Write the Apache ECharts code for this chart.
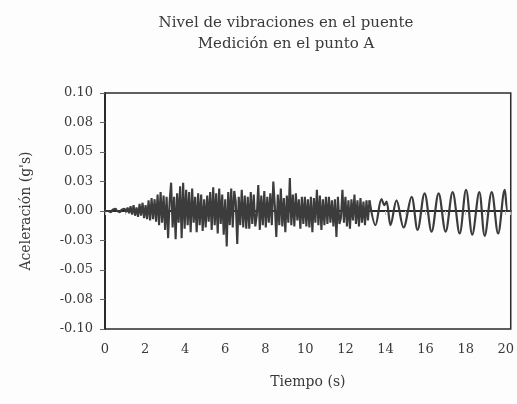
<!DOCTYPE html>
<html>
<head>
<meta charset="utf-8">
<script src="https://cdn.jsdelivr.net/npm/echarts@6/dist/echarts.min.js"></script>
<style>
html,body{margin:0;padding:0;background:#fdfdfd;}
#chart{width:517px;height:404px;}
</style>
</head>
<body>
<div id="chart"></div>
<script>
// Title and axis texts
const titleLines = ["Nivel de vibraciones en el puente", "Medición en el punto A"];
const xAxisName = "Tiempo (s)";
const yAxisName = "Aceleración (g's)";

// Dense, irregular part: samples every 0.075 s starting at 0 s (values in g)
const denseStep = 0.075;
const denseAccel = [
  0, 0.001, 0, 0.001, -0.001, 0.001, 0, 0.002, 0, 0.001, -0.001, 0.001, 0, 0.002, -0.001,
  0.003, -0.002, 0.004, -0.003, 0.005, -0.004, 0.003, -0.005, 0.006, -0.004, 0.007, -0.006, 0.005, -0.007,
  0.009, -0.008, 0.011, -0.007, 0.010, -0.009,
  0.014, -0.012, 0.016, -0.010, 0.013, -0.016, 0.012,
  -0.023, 0.008, 0.024, -0.014, 0.012,
  -0.024, 0.015, -0.010, 0.021, -0.023, 0.024, -0.015, 0.018,
  -0.012, 0.016, -0.018, 0.019, -0.010, 0.012, -0.018, 0.015,
  -0.012, 0.014, -0.017, 0.010, -0.014, 0.013, -0.009, 0.016,
  -0.016, 0.020, -0.012, 0.015, -0.019, 0.019, -0.011, 0.014,
  -0.020, 0.010, -0.030, 0.016, -0.012, 0.019, -0.014, 0.017,
  0.008, -0.028, 0.012, -0.012, 0.018, -0.014, 0.013, -0.015,
  0.012, -0.015, 0.016, -0.011, 0.014, -0.013, -0.004, 0.022,
  -0.016, 0.013, -0.012, 0.017, -0.014, 0.012, -0.010, 0.015,
  -0.012, 0.025, 0.005, -0.022, 0.014, -0.012, 0.019, -0.013,
  0.011, -0.018, 0.013, -0.010, 0.028, -0.012, 0.014, -0.013,
  0.015, -0.008, 0.010, -0.015, 0.012, -0.011, 0.012, -0.013,
  0.010, -0.014, 0.012, -0.018, 0.011, -0.010, 0.018, -0.012,
  0.013, -0.016, 0.010, -0.012, 0.012, -0.011, 0.012, -0.010,
  0.009, -0.013, 0.010, -0.022, 0.012, -0.011, -0.006, 0.018,
  -0.010, 0.012, -0.013, 0.009, -0.015, 0.010, -0.008, 0.014,
  -0.011, 0.009, -0.013, 0.011, -0.010, 0.008, -0.012, 0.009,
  -0.008, 0.009
];

// Regular oscillation at the end: peaks and troughs (time s, value g)
const waveTime  = [13.2, 13.5, 13.8, 13.95, 14.05, 14.25, 14.55, 14.9, 15.3, 15.6, 15.95, 16.3, 16.65, 17.0, 17.35, 17.7, 18.02, 18.33, 18.68, 18.95, 19.3, 19.62, 19.95, 20.1, 20.25];
const waveAccel = [0.009, -0.012, 0.010, 0.005, 0.008, -0.012, 0.009, -0.014, 0.012, -0.016, 0.015, -0.0175, 0.015, -0.0175, 0.016, -0.019, 0.018, -0.020, 0.016, -0.021, 0.016, -0.019, 0.018, 0.0, 0.0];

// Axis ticks
const xTicks = [0, 2, 4, 6, 8, 10, 12, 14, 16, 18, 20];
const yTickLabels = ["-0.10", "-0.08", "-0.05", "-0.03", "0.00", "0.03", "0.05", "0.08", "0.10"];

const denseData = denseAccel.map((v, i) => [+(i * denseStep).toFixed(3), v]);
const waveData = waveTime.map((t, i) => [t, waveAccel[i]]);

const serif = "'DejaVu Serif', 'Liberation Serif', serif";
const ink = '#2b2b2b';
const txt = '#3a3a3a';

const chart = echarts.init(document.getElementById('chart'), null, {renderer: 'canvas'});
chart.setOption({
  backgroundColor: '#fdfdfd',
  animation: false,
  title: {
    text: titleLines.join('\n'),
    left: 281, top: 8, textAlign: 'center',
    textStyle: {fontFamily: serif, fontSize: 15, fontWeight: 'normal', color: txt, lineHeight: 21}
  },
  grid: {left: 105, right: 2, top: 93, bottom: 75, show: true, borderColor: ink, borderWidth: 1.5, backgroundColor: 'transparent'},
  xAxis: {
    type: 'value', min: 0, max: 20.25, interval: 2,
    name: xAxisName, nameLocation: 'middle', nameGap: 46,
    nameTextStyle: {fontFamily: serif, fontSize: 14, color: txt},
    axisLine: {show: true, lineStyle: {color: ink, width: 2}},
    axisTick: {show: true, length: 4, lineStyle: {color: '#bbb'}},
    minorTick: {show: true, splitNumber: 2, length: 4, lineStyle: {color: '#ccc'}},
    splitLine: {show: false},
    axisLabel: {
      showMaxLabel: false, margin: 14,
      fontFamily: serif, fontSize: 13, color: txt,
      formatter: v => xTicks.indexOf(Math.round(v)) >= 0 && Math.abs(v - Math.round(v)) < 1e-6 ? String(Math.round(v)) : ''
    }
  },
  yAxis: {
    type: 'value', min: -0.1, max: 0.1, interval: 0.025,
    name: yAxisName, nameLocation: 'middle', nameGap: 72, nameRotate: 90,
    nameTextStyle: {fontFamily: serif, fontSize: 14, color: txt},
    axisLine: {show: true, lineStyle: {color: ink, width: 2}},
    axisTick: {show: true, length: 5, lineStyle: {color: '#666'}},
    splitLine: {show: false},
    axisLabel: {
      margin: 12, fontFamily: serif, fontSize: 13, color: txt,
      formatter: v => yTickLabels[Math.round((v + 0.1) / 0.025)]
    }
  },
  series: [
    {type: 'line', data: denseData, showSymbol: false, smooth: false,
     lineStyle: {color: '#3c3c3c', width: 2.1}, z: 3},
    {type: 'line', data: waveData, showSymbol: false, smooth: 0.35,
     lineStyle: {color: '#3c3c3c', width: 2.2}, z: 3}
  ]
});
</script>
</body>
</html>
